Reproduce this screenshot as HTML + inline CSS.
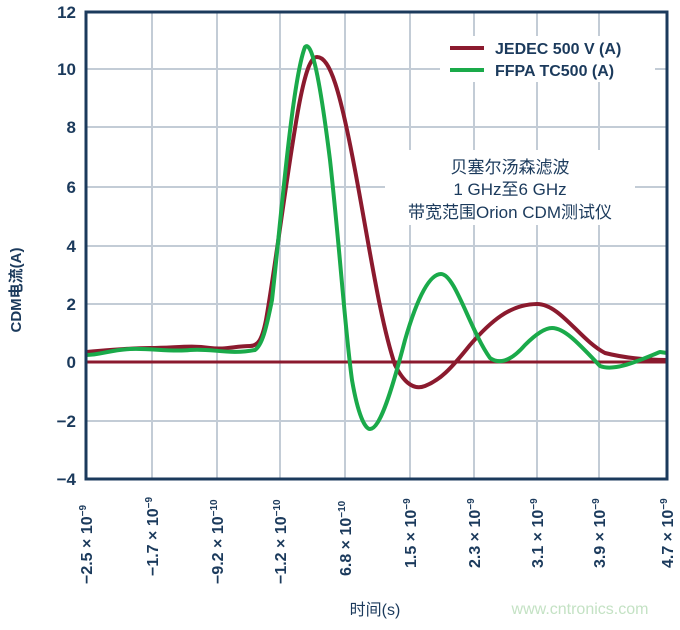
<!DOCTYPE html>
<html><head><meta charset="utf-8"><style>
body{margin:0;background:#fff;}
svg text{font-family:"Liberation Sans","Noto Sans CJK SC",sans-serif;fill:#1b3a5c;}
</style></head><body>
<svg width="680" height="625" viewBox="0 0 680 625" xmlns="http://www.w3.org/2000/svg">
<g stroke="#c3ccd6" stroke-width="2">
<line x1="152" y1="12" x2="152" y2="479"/><line x1="217" y1="12" x2="217" y2="479"/>
<line x1="280" y1="12" x2="280" y2="479"/><line x1="345" y1="12" x2="345" y2="479"/>
<line x1="410" y1="12" x2="410" y2="479"/><line x1="474" y1="12" x2="474" y2="479"/>
<line x1="537" y1="12" x2="537" y2="479"/><line x1="599" y1="12" x2="599" y2="479"/>
<line x1="86" y1="69" x2="667" y2="69"/><line x1="86" y1="127" x2="667" y2="127"/>
<line x1="86" y1="187" x2="667" y2="187"/><line x1="86" y1="246" x2="667" y2="246"/>
<line x1="86" y1="304" x2="667" y2="304"/><line x1="86" y1="421" x2="667" y2="421"/>
</g>
<rect x="440" y="36" width="215" height="46" fill="#fff"/>
<rect x="385" y="150" width="250" height="75" fill="#fff"/>
<line x1="86" y1="362" x2="667" y2="362" stroke="#8b1a2e" stroke-width="3"/>
<path d="M86,352 C110,350 130,348 150,348 C175,348 190,345 210,348 C225,350 235,346 250,346 C258,346 262,340 266,320 C275,270 290,150 300,100 C305,75 310,57 317,57 C330,57 340,90 355,170 C370,250 380,320 395,365 C405,385 415,390 425,386 C440,380 450,370 470,345 C490,322 510,304 537,304 C560,304 580,340 605,353 C625,358 645,360 667,360" fill="none" stroke="#8b1a2e" stroke-width="4" stroke-linejoin="round"/>
<path d="M86,355 C100,355 110,350 130,349 C150,348 170,352 190,350 C210,348 230,355 255,350 C262,345 266,330 272,300 C280,230 292,80 305,47 C312,40 320,80 330,160 C340,250 345,330 352,380 C358,415 365,429 370,429 C380,429 392,390 405,340 C418,295 430,274 441,274 C455,274 470,330 490,358 C500,365 512,360 525,345 C535,335 545,328 552,328 C565,328 580,345 600,366 C615,372 640,360 660,352 L667,353" fill="none" stroke="#1aaa4a" stroke-width="4" stroke-linejoin="round"/>
<path d="M86,12 L86,479 L667,479 L667,12 Z" fill="none" stroke="#1b3a5c" stroke-width="3"/>
<g font-size="17" font-weight="bold" text-anchor="end">
<text x="76" y="18">12</text><text x="76" y="75">10</text><text x="76" y="133">8</text>
<text x="76" y="193">6</text><text x="76" y="252">4</text><text x="76" y="310">2</text>
<text x="76" y="368">0</text><text x="76" y="427">−2</text><text x="76" y="485">−4</text>
</g>
<text transform="translate(21,290) rotate(-90)" font-size="15" font-weight="bold" text-anchor="middle">CDM电流(A)</text>
<g font-size="16" font-weight="bold">
<text transform="translate(92,584) rotate(-90)">−2.5 × 10<tspan dy="-6" font-size="10">−9</tspan></text>
<text transform="translate(158,576) rotate(-90)">−1.7 × 10<tspan dy="-6" font-size="10">−9</tspan></text>
<text transform="translate(223,584) rotate(-90)">−9.2 × 10<tspan dy="-6" font-size="10">−10</tspan></text>
<text transform="translate(286,584) rotate(-90)">−1.2 × 10<tspan dy="-6" font-size="10">−10</tspan></text>
<text transform="translate(351,576) rotate(-90)">6.8 × 10<tspan dy="-6" font-size="10">−10</tspan></text>
<text transform="translate(416,568) rotate(-90)">1.5 × 10<tspan dy="-6" font-size="10">−9</tspan></text>
<text transform="translate(480,568) rotate(-90)">2.3 × 10<tspan dy="-6" font-size="10">−9</tspan></text>
<text transform="translate(543,568) rotate(-90)">3.1 × 10<tspan dy="-6" font-size="10">−9</tspan></text>
<text transform="translate(605,568) rotate(-90)">3.9 × 10<tspan dy="-6" font-size="10">−9</tspan></text>
<text transform="translate(673,568) rotate(-90)">4.7 × 10<tspan dy="-6" font-size="10">−9</tspan></text>
</g>
<text x="375" y="615" font-size="16" text-anchor="middle">时间(s)</text>
<text x="580" y="614" font-size="16" text-anchor="middle" style="fill:#c4e2c4">www.cntronics.com</text>
<line x1="450" y1="48" x2="484" y2="48" stroke="#8b1a2e" stroke-width="4"/>
<line x1="450" y1="70" x2="484" y2="70" stroke="#1aaa4a" stroke-width="4"/>
<g font-size="16" font-weight="bold">
<text x="495" y="54">JEDEC 500 V (A)</text>
<text x="495" y="76">FFPA TC500 (A)</text>
</g>
<g font-size="17" text-anchor="middle">
<text x="510" y="173">贝塞尔汤森滤波</text>
<text x="510" y="195">1 GHz至6 GHz</text>
<text x="510" y="218">带宽范围Orion CDM测试仪</text>
</g>
</svg>
</body></html>
